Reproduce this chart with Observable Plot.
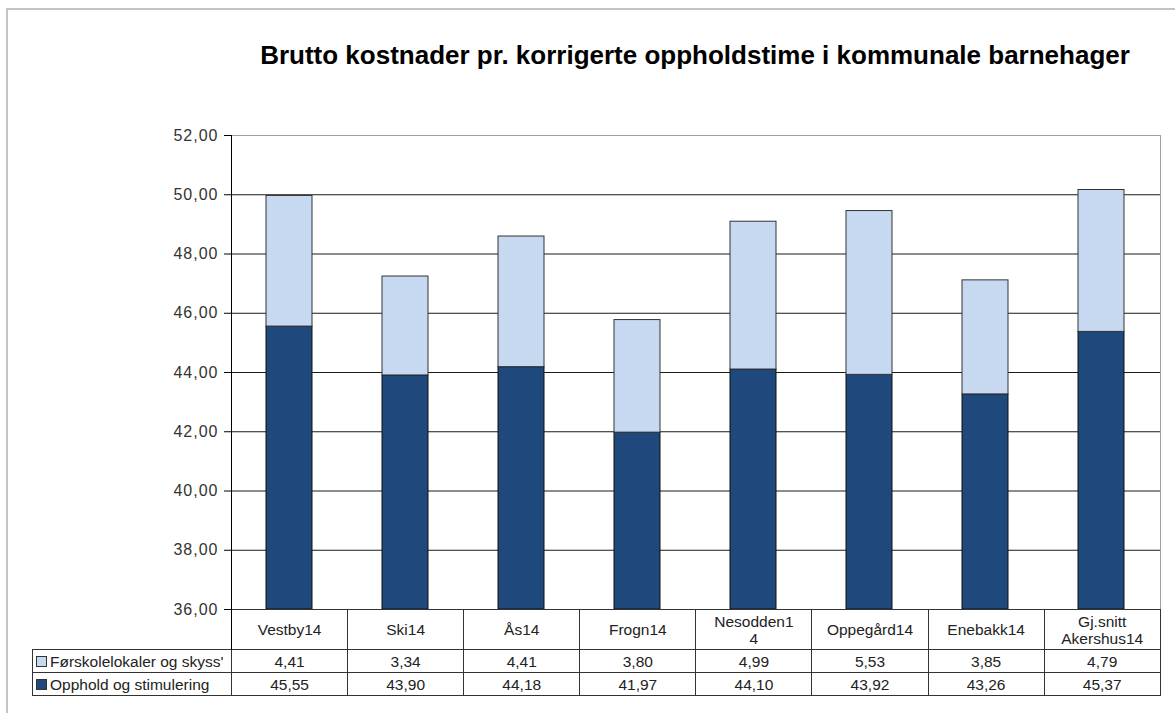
<!DOCTYPE html>
<html><head><meta charset="utf-8">
<script src="https://cdn.jsdelivr.net/npm/d3@7"></script>
<script src="https://cdn.jsdelivr.net/npm/@observablehq/plot@0.6"></script>
<style>
body{margin:0;background:#fff;font-family:"Liberation Sans",Arial,sans-serif;}
#page{position:relative;width:1175px;height:713px;overflow:hidden;background:#fff;}
#border{position:absolute;left:6px;top:8px;width:1300px;height:800px;border-left:2px solid #c3c3c3;border-top:2px solid #c3c3c3;}
#title{position:absolute;left:0;top:40px;width:1390px;text-align:center;font-weight:bold;font-size:26px;line-height:30px;color:#000;}
#chart{position:absolute;left:0;top:100px;}
#chart svg g[aria-label="y-axis tick label"] text{letter-spacing:1px;}
#tbl{position:absolute;left:32px;top:609px;border-collapse:collapse;table-layout:fixed;font-size:15.5px;color:#222;width:1128px;background:transparent;}
#tbl td{border:1px solid #333;text-align:center;padding:0;white-space:pre-line;line-height:17px;}
#tbl tr.h td{height:39px;}
#tbl tr.h td.blank{border:none;border-right:1px solid #000;}
#tbl tr.r td{height:22px;}
#tbl td.leg{text-align:left;padding-left:3px;white-space:nowrap;overflow:hidden;}
.sw{display:inline-block;width:9px;height:9px;border:1px solid #333;margin-right:3px;vertical-align:0px;}
</style></head>
<body>
<div id="page">
<div id="border"></div>
<div id="title">Brutto kostnader pr. korrigerte oppholdstime i kommunale barnehager</div>
<div id="chart"></div>
<table id="tbl"></table>
</div>
<script>
const categories = ["Vestby14","Ski14","Ås14","Frogn14","Nesodden14","Oppegård14","Enebakk14","Gj.snitt Akershus14"];
const headerLabels = ["Vestby14","Ski14","Ås14","Frogn14","Nesodden1\n4","Oppegård14","Enebakk14","Gj.snitt\nAkershus14"];
const seriesNames = ["Førskolelokaler og skyss'","Opphold og stimulering"];
const forskole = [4.41,3.34,4.41,3.80,4.99,5.53,3.85,4.79];
const opphold = [45.55,43.90,44.18,41.97,44.10,43.92,43.26,45.37];
const yTicks = [36,38,40,42,44,46,48,50,52];
const yDomain = [36,52];
const colors = ["#C6D9F1","#1F497D"];

const fmt = d => d.toFixed(2).replace(".", ",");
const rows = categories.map((c,i) => ({cat:c, base:yDomain[0], opp:opphold[i], top:opphold[i]+forskole[i]}));

const plot = Plot.plot({
  width: 1163, height: 522,
  marginLeft: 231, marginRight: 3, marginTop: 35, marginBottom: 13,
  style: {fontFamily: "'Liberation Sans', Arial, sans-serif", fontSize: "16px", color: "#333", background: "transparent"},
  x: {domain: categories, paddingInner: 0.6, paddingOuter: 0.3, axis: null},
  y: {domain: yDomain, axis: null},
  marks: [
    Plot.ruleY(yTicks.filter(t => t > yDomain[0] && t < yDomain[1]), {stroke: "#1a1a1a", strokeWidth: 1}),
    Plot.ruleY([yDomain[1]], {stroke: "#a0a0a0", strokeWidth: 1}),
    Plot.frame({anchor: "right", stroke: "#a0a0a0"}),
    Plot.rectY(rows, {x: "cat", y1: "base", y2: "opp", fill: colors[1], stroke: "#111", strokeWidth: 1}),
    Plot.rectY(rows, {x: "cat", y1: "opp", y2: "top", fill: colors[0], stroke: "#333", strokeWidth: 1}),
    Plot.ruleY([yDomain[0]], {stroke: "#000", strokeWidth: 1}),
    Plot.frame({anchor: "left", stroke: "#000"}),
    Plot.axisY({ticks: yTicks, tickFormat: fmt, tickSize: 7, tickPadding: 6, stroke: "#000", fill: "#333", fontSize: 16})
  ]
});
document.getElementById("chart").appendChild(plot);

// data table below the chart
const tbl = document.getElementById("tbl");
const colg = document.createElement("colgroup");
colg.innerHTML = `<col style="width:199px">` + categories.map(() => `<col style="width:116.1px">`).join("");
tbl.appendChild(colg);
const hr = document.createElement("tr"); hr.className = "h";
hr.innerHTML = `<td class="blank"></td>` + headerLabels.map(l => `<td>${l}</td>`).join("");
tbl.appendChild(hr);
[[seriesNames[0], forskole, colors[0]], [seriesNames[1], opphold, colors[1]]].forEach(([name, vals, col]) => {
  const tr = document.createElement("tr"); tr.className = "r";
  tr.innerHTML = `<td class="leg"><span class="sw" style="background:${col}"></span>${name}</td>` + vals.map(v => `<td>${fmt(v)}</td>`).join("");
  tbl.appendChild(tr);
});
</script>
</body></html>
